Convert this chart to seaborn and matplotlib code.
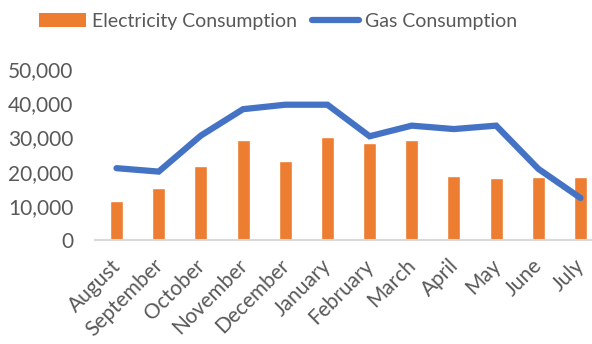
import numpy as np
import pandas as pd
import matplotlib
matplotlib.use("Agg")
import matplotlib.pyplot as plt
from matplotlib.patches import Patch
from matplotlib.lines import Line2D
from matplotlib.transforms import ScaledTranslation
import seaborn as sns

months = ["August", "September", "October", "November", "December", "January",
          "February", "March", "April", "May", "June", "July"]
electricity = [11300, 15200, 21700, 29300, 23200, 30000,
               28300, 29300, 18600, 18100, 18500, 18300]
gas = [21000, 20000, 30500, 38200, 39500, 39500,
       30300, 33400, 32400, 33400, 20800, 12300]

sns.set_theme(style="white")
plt.rcParams["font.family"] = ["Lato", "DejaVu Sans"]

ORANGE = "#ED7D31"
BLUE = "#4472C4"
TEXT = "#595959"

fig = plt.figure(figsize=(5.92, 3.44), dpi=100)
ax = fig.add_axes([95.4 / 592, 103.8 / 344, 506.2 / 592, 171.5 / 344])

df = pd.DataFrame({"month": months, "electricity": electricity, "gas": gas,
                   "pos": np.arange(len(months))})

sns.barplot(data=df, x="month", y="electricity", color=ORANGE, width=0.31,
            saturation=1, ax=ax, zorder=2)
sns.lineplot(data=df, x="pos", y="gas", color=BLUE, linewidth=4.5, ax=ax,
             zorder=3, solid_capstyle="round", solid_joinstyle="miter")

ax.set_xlim(-0.5, len(months) - 0.5)
ax.set_ylim(0, 50000)
ax.set_yticks(range(0, 50001, 10000))
ax.yaxis.set_major_formatter(matplotlib.ticker.FuncFormatter(lambda v, p: f"{int(v):,}"))
ax.set_xticks(np.arange(len(months)))
ax.set_xticklabels(months, rotation=45, ha="right", rotation_mode="anchor")
ax.set_xlabel("")
ax.set_ylabel("")
ax.tick_params(axis="both", length=0, labelsize=15, colors=TEXT)
ax.tick_params(axis="y", pad=16)
ax.tick_params(axis="x", pad=11)

# nudge the rotated month labels a little to the left of their ticks
shift = ScaledTranslation(-6 / 100, 0, fig.dpi_scale_trans)
for lbl in ax.get_xticklabels():
    lbl.set_transform(lbl.get_transform() + shift)

for side in ["top", "right", "left"]:
    ax.spines[side].set_visible(False)
ax.spines["bottom"].set_color("#D9D9D9")
ax.spines["bottom"].set_linewidth(1.5)

handles = [Patch(facecolor=ORANGE, edgecolor="none"),
           Line2D([0], [0], color=BLUE, linewidth=4.5, solid_capstyle="round")]
fig.legend(handles, ["Electricity Consumption", "Gas Consumption"],
           loc="upper center", bbox_to_anchor=(0.47, 1.0), ncol=2, frameon=False,
           fontsize=14, labelcolor=TEXT, handlelength=2.4, handleheight=0.7,
           handletextpad=0.3, columnspacing=0.8, borderaxespad=0.25)

fig.savefig("out.png", dpi=100)
